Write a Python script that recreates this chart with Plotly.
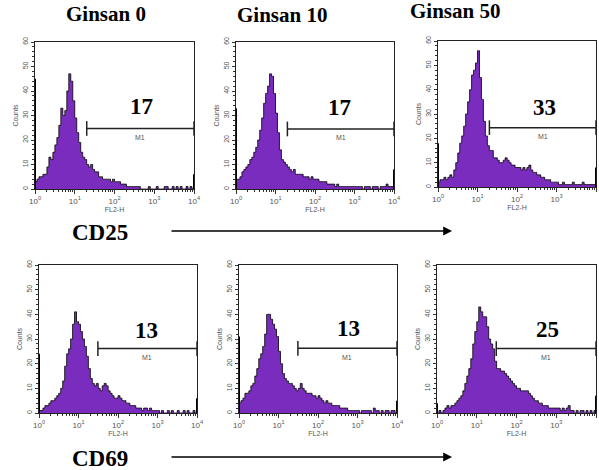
import numpy as np
import plotly.graph_objects as go

W, H = 599, 470

# ---------------- data ----------------
col_titles = ["Ginsan 0", "Ginsan 10", "Ginsan 50"]
row_labels = ["CD25", "CD69"]
percent_labels = [["17", "17", "33"], ["13", "13", "25"]]
gate_name = "M1"
x_title = "FL2-H"
y_title = "Counts"
y_tick_vals = [0, 10, 20, 30, 40, 50, 60]
x_tick_vals = [1, 10, 100, 1000, 10000]
x_tick_text = ["10<sup>0</sup>", "10<sup>1</sup>", "10<sup>2</sup>", "10<sup>3</sup>", "10<sup>4</sup>"]

n_bins = 80  # 0.05 decade per bin, 10^0 .. 10^4

cd25_g0 = [3, 4, 5, 5, 6, 6, 9, 13, 12, 15,
           18, 21, 26, 33, 30, 32, 40, 47, 44, 36,
           29, 23, 19, 15, 13, 12, 10, 9, 10, 8,
           7, 7, 5, 5, 4, 4, 4, 4, 3, 4,
           3, 3, 3, 2, 2, 2, 1, 1, 1, 1,
           1, 1, 1, 0, 0, 0, 0, 1, 0, 0,
           0, 1, 0, 0, 0, 1, 1, 0, 0, 1,
           0, 1, 0, 1, 0, 0, 1, 0, 1, 0]
cd25_g10 = [4, 4, 5, 7, 8, 9, 10, 12, 13, 15,
            17, 20, 24, 29, 35, 39, 42, 47, 46, 39,
            31, 23, 16, 12, 11, 10, 9, 8, 7, 8,
            6, 6, 6, 6, 5, 5, 5, 4, 5, 4,
            4, 4, 3, 3, 3, 3, 2, 2, 2, 2,
            1, 2, 1, 1, 1, 1, 1, 1, 1, 1,
            1, 1, 1, 1, 0, 1, 1, 1, 0, 1,
            1, 1, 0, 1, 1, 1, 2, 1, 1, 1]
cd25_g50 = [2, 3, 3, 4, 3, 4, 5, 4, 7, 10,
            14, 18, 21, 25, 30, 35, 40, 46, 48, 51,
            56, 45, 36, 27, 21, 17, 15, 15, 12, 12,
            11, 10, 10, 11, 12, 11, 10, 9, 9, 8,
            8, 8, 7, 8, 7, 8, 9, 7, 6, 6,
            5, 5, 4, 4, 3, 3, 3, 2, 2, 2,
            2, 1, 1, 2, 1, 1, 1, 1, 2, 1,
            1, 1, 1, 2, 1, 1, 1, 1, 1, 1]
cd69_g0 = [1, 1, 2, 3, 3, 4, 5, 5, 6, 7,
           8, 10, 13, 19, 24, 26, 30, 36, 41, 37,
           36, 33, 30, 27, 23, 18, 14, 12, 11, 12,
           10, 9, 11, 12, 11, 9, 8, 7, 6, 6,
           7, 6, 5, 5, 4, 4, 3, 3, 3, 2,
           2, 2, 1, 2, 2, 1, 2, 1, 1, 1,
           1, 0, 1, 0, 0, 1, 0, 1, 0, 0,
           1, 0, 0, 1, 0, 1, 0, 0, 1, 0]
cd69_g10 = [4, 5, 6, 8, 8, 9, 11, 12, 15, 18,
            22, 24, 27, 32, 40, 40, 38, 36, 34, 31,
            25, 20, 16, 14, 13, 12, 12, 11, 10, 9,
            10, 12, 10, 9, 8, 8, 8, 7, 7, 6,
            7, 6, 5, 4, 5, 4, 4, 3, 3, 3,
            3, 2, 2, 2, 2, 1, 1, 1, 1, 1,
            1, 0, 1, 1, 1, 1, 1, 0, 2, 1,
            1, 0, 1, 0, 1, 1, 0, 1, 1, 0]
cd69_g50 = [0, 1, 0, 1, 2, 3, 2, 3, 3, 4,
            5, 6, 7, 9, 12, 15, 18, 22, 28, 33,
            37, 43, 41, 39, 39, 35, 30, 28, 26, 21,
            18, 18, 17, 17, 16, 15, 14, 13, 12, 11,
            10, 10, 9, 9, 9, 9, 8, 7, 6, 5,
            5, 4, 4, 3, 3, 3, 2, 2, 2, 2,
            2, 2, 1, 2, 1, 2, 3, 1, 1, 0,
            1, 0, 1, 1, 0, 1, 0, 1, 0, 1]

histograms = [[cd25_g0, cd25_g10, cd25_g50], [cd69_g0, cd69_g10, cd69_g50]]
first_channel = [[45, 33, 18], [24, 31, 4]]   # off-scale low pile-up
last_channel = [[6, 8, 8], [6, 5, 7]]         # off-scale high pile-up
gate_low = [[20, 20, 20], [31, 31, 31]]       # M1 lower bound (FL2-H)

# ---------------- layout helpers ----------------
panels_px = [[(35, 194, 42, 189), (236, 394, 42, 189), (438, 596, 41, 187)],
             [(39, 197, 265, 413), (239, 397, 265, 413), (437, 596, 265, 413)]]
gate_level = [[24.7, 24.5, 24.4], [26.1, 26.2, 26.1]]
label_pos = [[(2.68, 33.7), (2.63, 33.2), (2.69, 32.6)],
             [(2.73, 33.3), (2.77, 34.4), (2.77, 33.7)]]

FILL = "#7A2CBE"
SANS = "Liberation Sans, Arial"
XTICKFONT = dict(family=SANS, size=8, color="#555")
YTICKFONT = dict(family=SANS, size=7, color="#555")
SERIF = "Liberation Serif, Times New Roman, serif"

centers = 10 ** (np.arange(n_bins) * (4.0 / n_bins) + 2.0 / n_bins)

fig = go.Figure()
layout = dict(width=W, height=H, margin=dict(l=0, r=0, t=0, b=0, autoexpand=False),
              paper_bgcolor="white", plot_bgcolor="white", showlegend=False)
annotations = []

k = 0
for r in range(2):
    for c in range(3):
        k += 1
        xs = "x" if k == 1 else f"x{k}"
        ys = "y" if k == 1 else f"y{k}"
        x0, x1, yt, yb = panels_px[r][c]
        vals = histograms[r][c]
        xx = [1.0] + list(centers) + [1e4]
        yy = [vals[0]] + list(vals) + [vals[-1]]
        fig.add_trace(go.Scatter(x=xx, y=yy, mode="lines", xaxis=xs, yaxis=ys,
                                 line=dict(color="black", width=0.8, shape="hvh"),
                                 fill="tozeroy", fillcolor=FILL, hoverinfo="skip"))
        # pile-up channels at the edges
        fig.add_trace(go.Scatter(x=[1, 1, None, 1e4, 1e4],
                                 y=[0, first_channel[r][c], None, 0, last_channel[r][c]],
                                 mode="lines", xaxis=xs, yaxis=ys, cliponaxis=False,
                                 line=dict(color="black", width=2), hoverinfo="skip"))
        # M1 gate marker
        g = gate_level[r][c]
        lo = gate_low[r][c]
        fig.add_trace(go.Scatter(x=[lo, 1e4, None, lo, lo, None, 1e4, 1e4],
                                 y=[g, g, None, g - 3, g + 3, None, g - 3, g + 3],
                                 mode="lines", xaxis=xs, yaxis=ys, cliponaxis=False,
                                 line=dict(color="#222", width=1.5), hoverinfo="skip"))
        mid = (np.log10(lo) + 4) / 2
        annotations.append(dict(x=mid, y=g - 3.6, xref=xs, yref=ys, text=gate_name,
                                showarrow=False, font=dict(family=SANS, size=7, color="#555"),
                                xanchor="center", yanchor="middle"))
        lx, ly = label_pos[r][c]
        annotations.append(dict(x=lx, y=ly, xref=xs, yref=ys, text=f"<b>{percent_labels[r][c]}</b>",
                                showarrow=False, font=dict(family=SERIF, size=23, color="black"),
                                xanchor="center", yanchor="middle"))

        xkey = "xaxis" if k == 1 else f"xaxis{k}"
        ykey = "yaxis" if k == 1 else f"yaxis{k}"
        layout[xkey] = dict(type="log", range=[0, 4], domain=[x0 / W, x1 / W], anchor=ys,
                            automargin=False,
                            tickvals=x_tick_vals, ticktext=x_tick_text, ticks="outside",
                            ticklen=4, tickwidth=1, tickcolor="#333",
                            minor=dict(ticks="outside", ticklen=2, dtick="D1", tickcolor="#333"),
                            showline=True, linecolor="#222", linewidth=1.2, mirror=True,
                            showgrid=False, zeroline=False, tickfont=XTICKFONT,
                            title=dict(text=x_title, font=dict(family=SANS, size=7, color="#555"),
                                       standoff=0))
        layout[ykey] = dict(range=[0, 60], domain=[1 - yb / H, 1 - yt / H], anchor=xs,
                            automargin=False,
                            tickvals=y_tick_vals, tickangle=-90, ticks="outside",
                            ticklen=3, tickwidth=1, tickcolor="#333",
                            minor=dict(ticks="outside", ticklen=2, dtick=2, tickcolor="#333"),
                            showline=True, linecolor="#222", linewidth=1.2, mirror=True,
                            showgrid=False, zeroline=False, tickfont=YTICKFONT,
                            title=dict(text=y_title, font=dict(family=SANS, size=7, color="#555"),
                                       standoff=2))

# column titles
for (cx, cy), t in zip([(106, 14), (282, 15), (455, 11)], col_titles):
    annotations.append(dict(x=cx / W, y=1 - cy / H, xref="paper", yref="paper", text=f"<b>{t}</b>",
                            showarrow=False, font=dict(family=SERIF, size=21, color="black"),
                            xanchor="center", yanchor="middle"))
# row labels and arrows
for (cx, cy), t in zip([(100, 232), (100, 458)], row_labels):
    annotations.append(dict(x=cx / W, y=1 - cy / H, xref="paper", yref="paper", text=f"<b>{t}</b>",
                            showarrow=False, font=dict(family=SERIF, size=23, color="black"),
                            xanchor="center", yanchor="middle"))
    annotations.append(dict(x=452 / W, y=1 - (cy - 1) / H, xref="paper", yref="paper", text="",
                            showarrow=True, ax=-282, ay=0, arrowhead=2, arrowsize=1.1,
                            arrowwidth=1.6, arrowcolor="black"))

layout["annotations"] = annotations
fig.update_layout(**layout)
fig.write_html("out.html", config={"displayModeBar": False, "staticPlot": True},
               post_script="document.body.style.margin='0';document.body.style.overflow='hidden';")
